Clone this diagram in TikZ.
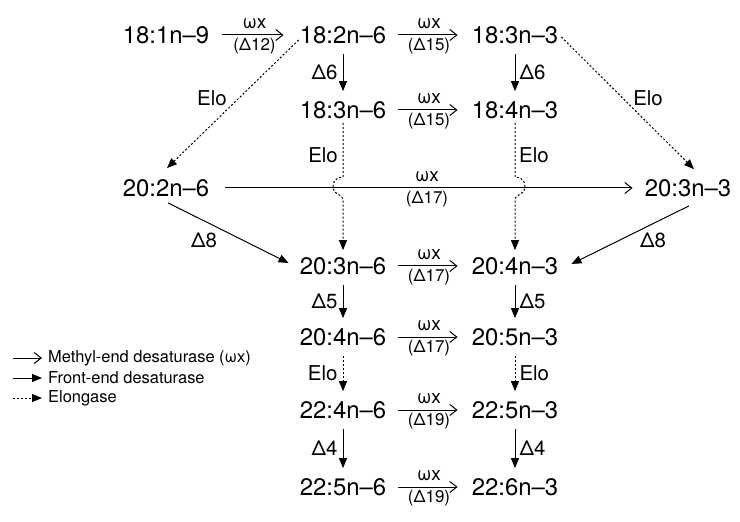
\documentclass[tikz,border=0pt]{standalone}
\usepackage{fontspec}
\setmainfont{TeX Gyre Heros}
\usetikzlibrary{arrows.meta}
\begin{document}
\begin{tikzpicture}[x=1bp,y=-1bp,
  main/.style={font=\fontsize{24}{28}\selectfont, inner sep=0pt},
  lbl/.style={font=\fontsize{20.5}{24}\selectfont, inner sep=0pt},
  small/.style={font=\fontsize{17}{20}\selectfont, inner sep=0pt},
  wsmall/.style={font=\fontsize{19}{22}\selectfont, inner sep=0pt},
  leg/.style={font=\fontsize{16.5}{20}\selectfont, inner sep=0pt, anchor=west},
  wlab/.style={midway, yshift=11bp, wsmall},
  dlab/.style={midway, yshift=-11bp, small},
  omega/.style={line width=1bp, -{Straight Barb[length=7bp,width=11bp,line width=1bp]}},
  front/.style={line width=1bp, -{Triangle[length=10bp,width=8bp]}},
  elo/.style={line width=1bp, dash pattern=on 2bp off 2bp, -{Triangle[length=10bp,width=8bp]}},
  rowarrow/.style={omega, shorten <=12bp, shorten >=14bp},
  vert/.style={shorten <=10bp, shorten >=10bp}
]
\useasboundingbox (0,0) rectangle (740,522);

% nodes
\node[main] (a1) at (166,35) {18:1n–9};
\node[main] (a2) at (343,35) {18:2n–6};
\node[main] (a3) at (515,35) {18:3n–3};
\node[main] (b2) at (343,110) {18:3n–6};
\node[main] (b3) at (515,110) {18:4n–3};
\node[main] (c1) at (166,188) {20:2n–6};
\node[main] (c4) at (688,188) {20:3n–3};
\node[main] (d2) at (343,266) {20:3n–6};
\node[main] (d3) at (515,266) {20:4n–3};
\node[main] (e2) at (343,337) {20:4n–6};
\node[main] (e3) at (515,337) {20:5n–3};
\node[main] (f2) at (343,410) {22:4n–6};
\node[main] (f3) at (515,410) {22:5n–3};
\node[main] (g2) at (343,487) {22:5n–6};
\node[main] (g3) at (515,487) {22:6n–3};

% methyl-end desaturase arrows
\draw[omega, shorten <=13bp, shorten >=16bp] (a1) -- (a2)
  node[wlab]{ωx} node[dlab]{(Δ12)};
\draw[rowarrow] (a2) -- (a3) node[wlab]{ωx} node[dlab]{(Δ15)};
\draw[rowarrow] (b2) -- (b3) node[wlab]{ωx} node[dlab]{(Δ15)};
\draw[omega, shorten <=16bp, shorten >=12bp] (c1) -- (c4)
  node[wlab]{ωx} node[dlab]{(Δ17)};
\draw[rowarrow] (d2) -- (d3) node[wlab]{ωx} node[dlab]{(Δ17)};
\draw[rowarrow] (e2) -- (e3) node[wlab]{ωx} node[dlab]{(Δ17)};
\draw[rowarrow] (f2) -- (f3) node[wlab]{ωx} node[dlab]{(Δ19)};
\draw[rowarrow] (g2) -- (g3) node[wlab]{ωx} node[dlab]{(Δ19)};

% front-end desaturase arrows
\draw[front, vert] (a2) -- (b2) node[midway, lbl, left=5bp]{Δ6};
\draw[front, vert] (a3) -- (b3) node[midway, lbl, right=4bp]{Δ6};
\draw[front, vert] (d2) -- (e2) node[midway, lbl, left=5bp]{Δ5};
\draw[front, vert] (d3) -- (e3) node[midway, lbl, right=4bp]{Δ5};
\draw[front, vert] (f2) -- (g2) node[midway, lbl, left=5bp]{Δ4};
\draw[front, vert] (f3) -- (g3) node[midway, lbl, right=4bp]{Δ4};
\draw[front] ([xshift=2bp,yshift=-6bp]c1.south) -- ([xshift=-11bp,yshift=3bp]d2.west);
\draw[front] ([xshift=1bp,yshift=-9bp]c4.south) -- ([xshift=13bp,yshift=2bp]d3.east);
\node[lbl] (d8l) at (204,240) {Δ8};
\node[lbl] (d8r) at (653,240) {Δ8};

% elongase arrows
\draw[elo] ([xshift=-1bp,yshift=-5bp]a2.west) -- ([xshift=1bp,yshift=11bp]c1.north);
\node[lbl] (elo1) at (212,98) {Elo};
\draw[elo] ([xshift=3bp,yshift=-2bp]a3.east) -- ([xshift=6bp,yshift=10bp]c4.north);
\node[lbl] (elo2) at (648,98) {Elo};

\coordinate (hl1) at (343,177);
\coordinate (hl2) at (333,188);
\coordinate (hl3) at (343,199);
\draw[elo, shorten <=4bp, shorten >=7bp] (b2.south) -- (hl1)
  .. controls (334,178) and (333,182) .. (hl2)
  .. controls (333,194) and (343,195) .. (hl3) -- (d2.north);
\node[lbl, anchor=east] (elo3) at (338,155) {Elo};

\coordinate (hr1) at (515,177);
\coordinate (hr2) at (525,188);
\coordinate (hr3) at (515,199);
\draw[elo, shorten <=4bp, shorten >=7bp] (b3.south) -- (hr1)
  .. controls (524,178) and (525,182) .. (hr2)
  .. controls (525,194) and (515,195) .. (hr3) -- (d3.north);
\node[lbl, anchor=west] (elo4) at (519,155) {Elo};

\draw[elo, vert] (e2) -- (f2) node[midway, lbl, left=5bp]{Elo};
\draw[elo, vert] (e3) -- (f3) node[midway, lbl, right=4bp]{Elo};

% legend
\node[leg] (t1) at (48,358) {Methyl-end desaturase (ωx)};
\node[leg] (t2) at (48,378) {Front-end desaturase};
\node[leg] (t3) at (48,398) {Elongase};
\draw[omega] ([xshift=-35bp]t1.west) -- ([xshift=-6bp]t1.west);
\draw[front] ([xshift=-35bp]t2.west) -- ([xshift=-6bp]t2.west);
\draw[elo] ([xshift=-35bp]t3.west) -- ([xshift=-6bp]t3.west);
\end{tikzpicture}
\end{document}
